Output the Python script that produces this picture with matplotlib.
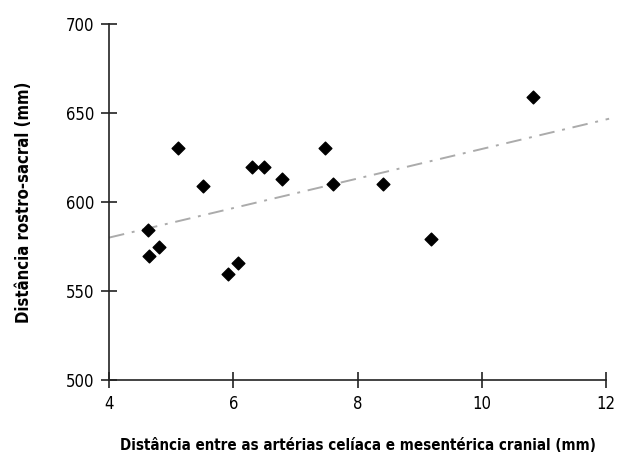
import matplotlib
matplotlib.use("Agg")
import matplotlib.pyplot as plt

# distancia entre arterias (mm) e distancia rostro-sacral (mm)
dist_arterias = [4.63, 4.64, 4.81, 5.11, 5.52, 5.92, 6.08, 6.30, 6.50, 6.79,
                 7.48, 7.61, 8.41, 9.19, 10.83]
dist_rs = [584.3, 569.8, 574.5, 630.2, 609.0, 559.7, 566.0, 619.7, 619.7, 612.7,
           630.2, 610.0, 610.3, 579.2, 659.2]

# linha de tendencia
trend_x = [4, 12.05]
trend_y = [580.0, 646.8]

plt.rcParams['font.family'] = ['DejaVu Sans']
plt.rcParams['font.stretch'] = 'condensed'

fig = plt.figure(figsize=(6.17, 4.55), dpi=100)
ax = fig.add_axes([0.1767, 0.1648, 0.8055, 0.7824])

ax.plot(trend_x, trend_y, color='#ababab', linestyle=(0, (8, 4, 1.5, 4)),
        linewidth=1.4, clip_on=False, zorder=1)
ax.scatter(dist_arterias, dist_rs, marker='D', s=42, color='black', zorder=3)

ax.set_xlim(4, 12)
ax.set_ylim(500, 700)
ax.set_xticks([4, 6, 8, 10, 12])
ax.set_yticks([500, 550, 600, 650, 700])

for s in ['top', 'right']:
    ax.spines[s].set_visible(False)
for s in ['left', 'bottom']:
    ax.spines[s].set_linewidth(1.2)
    ax.spines[s].set_color('#222222')

ax.tick_params(direction='inout', length=11, width=1.2, labelsize=12, color='#222222')
ax.tick_params(axis='x', pad=5)
ax.tick_params(axis='y', pad=5)

ax.set_xlabel('Distância entre as artérias celíaca e mesentérica cranial (mm)',
              fontsize=10.8, fontweight='bold', labelpad=18)
ax.set_ylabel('Distância rostro-sacral (mm)', fontsize=12, fontweight='bold', labelpad=24)

fig.savefig('out.png', dpi=100)
